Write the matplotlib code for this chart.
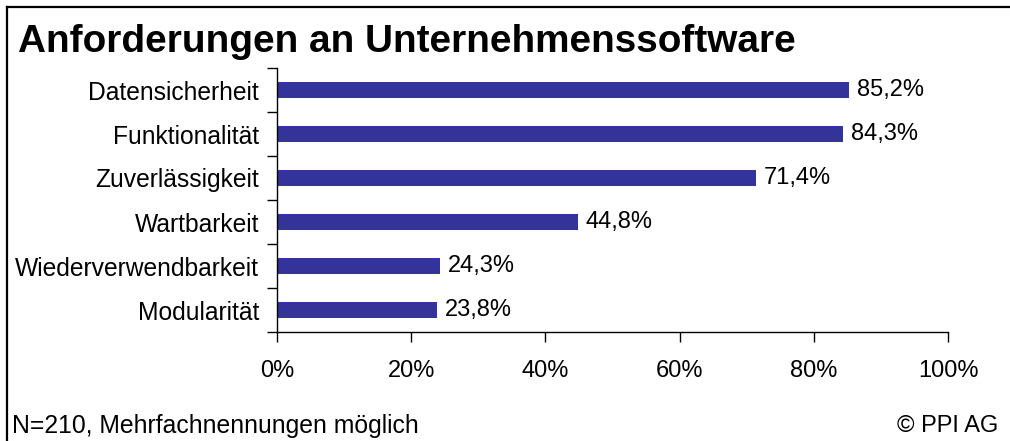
import numpy as np
import matplotlib.pyplot as plt
from matplotlib.lines import Line2D

categories = ["Datensicherheit", "Funktionalität", "Zuverlässigkeit",
              "Wartbarkeit", "Wiederverwendbarkeit", "Modularität"]
values = [85.2, 84.3, 71.4, 44.8, 24.3, 23.8]
xticks = [0, 20, 40, 60, 80, 100]

plt.rcParams['font.family'] = ['Liberation Sans', 'DejaVu Sans']

W, H = 1010, 441
fig = plt.figure(figsize=(W / 100, H / 100), dpi=100)
ax = fig.add_axes([277 / W, 1 - 332 / H, (948 - 277) / W, (332 - 68) / H])

y = np.arange(len(categories))
ax.barh(y, values, height=0.38, color="#333399")
for yi, v in zip(y, values):
    ax.text(v + 1.2, yi, f"{v:.1f}%".replace(".", ","), va="center", ha="left",
            fontsize=17)

ax.set_xlim(0, 100)
ax.set_ylim(len(categories) - 0.5, -0.5)
ax.set_yticks(y)
ax.set_yticklabels(categories, fontsize=17.7)
ax.set_yticks(np.arange(len(categories) + 1) - 0.5, minor=True)
ax.tick_params(axis="y", which="major", length=0, pad=13)
ax.tick_params(axis="y", which="minor", length=7, width=1, direction="out")
ax.set_xticks(xticks)
ax.set_xticklabels([f"{t}%" for t in xticks], fontsize=17)
ax.tick_params(axis="x", length=7, width=1, direction="out", pad=13)
for s in ["top", "right"]:
    ax.spines[s].set_visible(False)
for s in ["left", "bottom"]:
    ax.spines[s].set_linewidth(1)
    ax.spines[s].set_color("black")

fig.text(18 / W, 1 - 52 / H, "Anforderungen an Unternehmenssoftware",
         fontsize=27.9, fontweight="bold", va="baseline", ha="left")
fig.text(12 / W, 1 - 433 / H, "N=210, Mehrfachnennungen möglich",
         fontsize=17.8, va="baseline", ha="left")
fig.text(998 / W, 1 - 432 / H, "© PPI AG", fontsize=17, va="baseline",
         ha="right")

# frame lines at top and left
fig.add_artist(Line2D([7 / W, 7 / W], [0, 1 - 7 / H], color="black", lw=1.6))
fig.add_artist(Line2D([7 / W, 1], [1 - 7 / H, 1 - 7 / H], color="black", lw=1.6))

fig.savefig("out.png", dpi=100)
